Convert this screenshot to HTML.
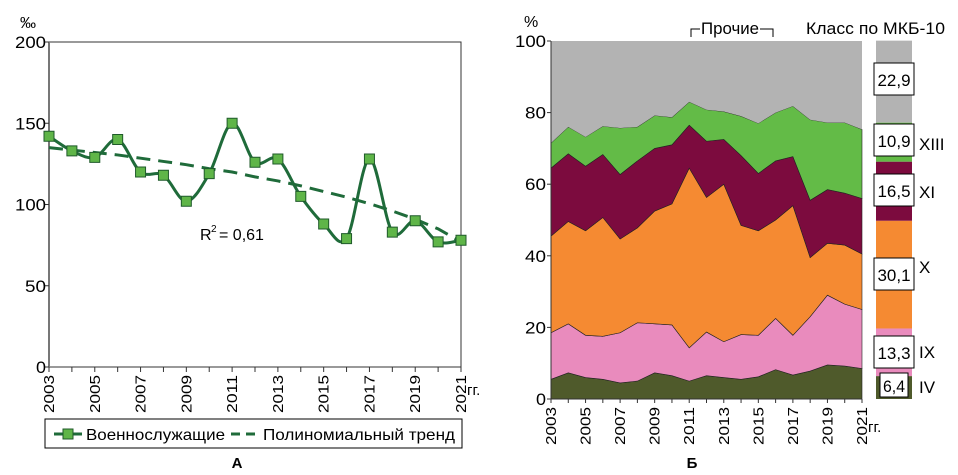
<!DOCTYPE html>
<html><head><meta charset="utf-8"><style>
body{margin:0;background:#fff;}
svg{display:block;font-family:"Liberation Sans",sans-serif;}
</style></head><body>
<svg id="s" width="958" height="475" viewBox="0 0 958 475"></svg>
<script>
const years=[2003,2004,2005,2006,2007,2008,2009,2010,2011,2012,2013,2014,2015,2016,2017,2018,2019,2020,2021];
const soldiers=[142,133,129,140,120,118,102,119,150,126,128,105,88,79,128,83,90,77,78];
const trend=[135,133.5,132,130.5,128.5,126.5,124.5,122,120,117,114.5,111.5,108,104.5,100.5,96,91,85,77];
const leftTicks=[0,50,100,150,200];
const rightTicks=[0,20,40,60,80,100];
const classIV=[5.5,7.3,6,5.5,4.5,5,7.3,6.5,5,6.5,6,5.5,6.2,8.2,6.7,7.8,9.5,9.2,8.5];
const classIX=[13,13.7,11.8,12,14,16.3,13.7,14.2,9.3,12.2,10,12.5,11.6,14.3,11.1,15.2,19.5,17.3,16.5];
const classX=[27,28.6,29.2,33.2,26.2,26.5,31.5,33.8,50.2,37.6,44,30.5,29.2,27.5,36.2,16.5,14.5,16.5,15.5];
const classXI=[19,18.9,18,17.6,18,18.7,17.5,16.5,12,15.7,12.5,19.5,16,16.5,13.7,16,15,14.5,15.5];
const classXIII=[7,7.5,8.2,7.9,13,9.5,9.2,7.7,6.5,8.8,7.8,11,14,13.5,14.1,22.5,18.7,19.7,19.3];
const sideValues=[6.4,13.3,30.1,16.5,10.9,22.9];
const sideLabels=["IV","IX","X","XI","XIII",""];
const colors=["#4f5a2b","#e98bbd","#f58a32","#7c0b3e","#63bb47","#b3b3b3"];
const names=["iv","ix","x","xi","xiii","other"];

const NS="http://www.w3.org/2000/svg";
const svg=document.getElementById('s');
function el(tag,attrs,parent){const e=document.createElementNS(NS,tag);for(const k in attrs)e.setAttribute(k,attrs[k]);(parent||svg).appendChild(e);return e;}
function txt(x,y,s,attrs,parent){const t=el('text',Object.assign({x:x,y:y,'font-size':15,fill:'#000'},attrs||{}),parent);t.textContent=s;return t;}

// LEFT CHART
const L={x0:49,x1:461,y0:367,y1:42,max:200};
const lx=i=>L.x0+(L.x1-L.x0)*(years[i]-years[0])/(years[years.length-1]-years[0]);
const ly=v=>L.y0-(L.y0-L.y1)*v/L.max;
const gA=el('g',{});


el('rect',{x:L.x0,y:L.y1,width:L.x1-L.x0,height:L.y0-L.y1,fill:'none',stroke:'#333','stroke-width':1},gA);
el('line',{x1:L.x0,y1:L.y1,x2:L.x0,y2:L.y0,stroke:'#777','stroke-width':2},gA);
leftTicks.forEach(v=>{
  el('line',{x1:L.x0-4,y1:ly(v),x2:L.x0,y2:ly(v),stroke:'#333'},gA);
  const t=txt(L.x0-3,ly(v)+6,String(v),{'text-anchor':'end','font-size':17,textLength:v>=100?31:v>0?21:10,lengthAdjust:'spacingAndGlyphs'},gA);
  
  
});
const pm=txt(20,28,'‰',{'font-size':16});

years.forEach((y,i)=>{
  el('line',{x1:lx(i),y1:L.y0,x2:lx(i),y2:L.y0+5,stroke:'#333'},gA);
  if(i%2===0){const t=txt(0,0,String(y),{transform:`translate(${lx(i)+5},${L.y0+46}) rotate(-90)`,'font-size':15,textLength:38,lengthAdjust:'spacingAndGlyphs'});
  
  }
});
txt(467,395,'гг.',{'font-size':15});
let tp=trend.map((v,i)=>(i?'L':'M')+lx(i)+','+ly(v)).join(' ');
const tr=el('path',{d:tp,fill:'none',stroke:'#1f6b3a','stroke-width':3,'stroke-dasharray':'14,8'},gA);


const pts=soldiers.map((v,i)=>[lx(i),ly(v)]);
let d='M'+pts[0][0]+','+pts[0][1];
for(let i=0;i<pts.length-1;i++){const p0=pts[i-1]||pts[i],p1=pts[i],p2=pts[i+1],p3=pts[i+2]||p2;
  d+=` C${p1[0]+(p2[0]-p0[0])/6},${p1[1]+(p2[1]-p0[1])/6} ${p2[0]-(p3[0]-p1[0])/6},${p2[1]-(p3[1]-p1[1])/6} ${p2[0]},${p2[1]}`;}
const sl=el('path',{d:d,fill:'none',stroke:'#1f6b3a','stroke-width':3},gA);


pts.forEach(p=>{const r=el('rect',{x:p[0]-5,y:p[1]-5,width:10,height:10,fill:'#5fb548',stroke:'#1f5a2a','stroke-width':1},gA);
  
  });
const r2=txt(200,240,'R',{'font-size':16});

txt(211,232,'2',{'font-size':10});txt(219,240,'= 0,61',{'font-size':16});
const lg=el('g',{});


el('rect',{x:45,y:419,width:417,height:29,fill:'#fff',stroke:'#000'},lg);
el('line',{x1:54,y1:434,x2:82,y2:434,stroke:'#1f6b3a','stroke-width':3},lg);
el('rect',{x:63,y:429,width:10,height:10,fill:'#5fb548',stroke:'#1f5a2a'},lg);
txt(86,440,'Военнослужащие',{'font-size':16,textLength:139,lengthAdjust:'spacingAndGlyphs'},lg);
el('line',{x1:231,y1:434,x2:259,y2:434,stroke:'#1f6b3a','stroke-width':3,'stroke-dasharray':'9,6'},lg);
txt(263,440,'Полиномиальный тренд',{'font-size':16,textLength:192,lengthAdjust:'spacingAndGlyphs'},lg);
txt(237,468,'А',{'font-size':15,'font-weight':'bold','text-anchor':'middle'});

// RIGHT CHART
const R={x0:551,x1:862,y0:399,y1:41};
const rx=i=>R.x0+(R.x1-R.x0)*(years[i]-years[0])/(years[years.length-1]-years[0]);
const ry=v=>R.y0-(R.y0-R.y1)*v/100;
const series=[classIV,classIX,classX,classXI,classXIII];
const gB=el('g',{});


const base=years.map(()=>0);
const layers=[];
series.forEach(s=>{const lo=base.slice();s.forEach((v,i)=>base[i]+=v);layers.push([lo,base.slice()]);});
layers.push([base.slice(),years.map(()=>100)]);
layers.forEach((ly2,k)=>{
  const [lo,hi]=ly2;
  let p=hi.map((v,i)=>(i?'L':'M')+rx(i)+','+ry(v)).join(' ');
  for(let i=lo.length-1;i>=0;i--)p+=' L'+rx(i)+','+ry(lo[i]);
  const a=el('path',{d:p+'Z',fill:colors[k],stroke:k<5?'#222':'none','stroke-width':0.6},gB);
  
  
});
el('line',{x1:R.x0,y1:R.y1,x2:R.x0,y2:R.y0,stroke:'#333'},gB);
el('line',{x1:R.x0,y1:R.y0,x2:R.x1,y2:R.y0,stroke:'#333'},gB);
rightTicks.forEach(v=>{el('line',{x1:R.x0-4,y1:ry(v),x2:R.x0,y2:ry(v),stroke:'#333'},gB);
  const t=txt(R.x0-5,ry(v)+6,String(v),{'text-anchor':'end','font-size':17,textLength:v>=100?31:v>0?21:10,lengthAdjust:'spacingAndGlyphs'},gB);
  
  });
txt(524,27,'%',{'font-size':16});
years.forEach((y,i)=>{el('line',{x1:rx(i),y1:R.y0,x2:rx(i),y2:R.y0+4,stroke:'#333'},gB);
  if(i%2===0){const t=txt(0,0,String(y),{transform:`translate(${rx(i)+5},${R.y0+46}) rotate(-90)`,'font-size':15,textLength:38,lengthAdjust:'spacingAndGlyphs'});
  
  }});
txt(868,432,'гг.',{'font-size':15});
el('path',{d:'M691,37 V29 H700 M760,29 H773 V37',fill:'none',stroke:'#000'});
const pr=txt(730,34,'Прочие',{'font-size':17,'text-anchor':'middle',textLength:58,lengthAdjust:'spacingAndGlyphs'});

const st=txt(806,34,'Класс по МКБ-10',{'font-size':17,textLength:139,lengthAdjust:'spacingAndGlyphs'});

const SB={x:876,w:36};
let acc=0;
sideValues.forEach((v,k)=>{
  const lo=acc,hi=acc+v;acc=hi;
  const r=el('rect',{x:SB.x,y:ry(hi),width:SB.w,height:ry(lo)-ry(hi),fill:colors[k]});
  
  
});
const boxMid=[385,352,274,190,140,79];
const labMid=[386,351,266,191,143,0];
sideValues.forEach((v,k)=>{
  const bw=k===0?28:40, bh=k===0?24:32;
  const b=el('rect',{x:SB.x+(SB.w-bw)/2,y:boxMid[k]-bh/2,width:bw,height:bh,fill:'#fff',stroke:'#000'});
  
  
  txt(SB.x+SB.w/2,boxMid[k]+7,String(v).replace('.',','),{'font-size':17,'text-anchor':'middle',textLength:k===0?22:33,lengthAdjust:'spacingAndGlyphs'});
  if(sideLabels[k])txt(919,labMid[k]+7,sideLabels[k],{'font-size':17});
});
txt(692,468,'Б',{'font-size':15,'font-weight':'bold','text-anchor':'middle'});
</script>
</body></html>
